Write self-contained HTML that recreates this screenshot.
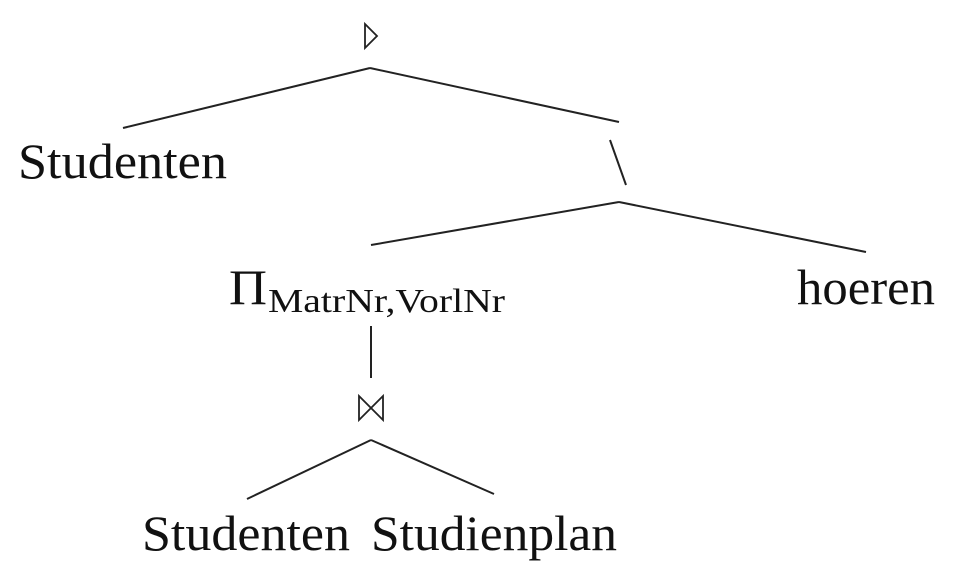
<!DOCTYPE html>
<html><head><style>html,body{margin:0;padding:0;background:#fff}</style></head>
<body>
<svg width="958" height="588" viewBox="0 0 958 588" xmlns="http://www.w3.org/2000/svg" style="display:block">
<g stroke="#222" stroke-width="2" fill="none">
<line x1="370" y1="68" x2="123" y2="128"/>
<line x1="370" y1="68" x2="619" y2="122"/>
<line x1="610" y1="140" x2="626" y2="185"/>
<line x1="619" y1="202" x2="371" y2="245"/>
<line x1="619" y1="202" x2="866" y2="252"/>
<line x1="371" y1="326" x2="371" y2="378"/>
<line x1="371" y1="440" x2="247" y2="499"/>
<line x1="371" y1="440" x2="494" y2="494"/>
<polygon points="365,24 377,36 365,48" stroke-width="1.8"/>
<polygon points="359,396 383,420 383,396 359,420" stroke-width="1.8"/>
</g>
<g font-family="Liberation Serif, serif" fill="#111" font-size="50">
<text x="18" y="178" textLength="209" lengthAdjust="spacingAndGlyphs">Studenten</text>
<text x="797" y="304" textLength="138" lengthAdjust="spacingAndGlyphs">hoeren</text>
<text x="229" y="304" textLength="38" lengthAdjust="spacingAndGlyphs">Π</text>
<text x="268" y="312" font-size="34" textLength="237" lengthAdjust="spacingAndGlyphs">MatrNr,VorlNr</text>
<text x="142" y="550" textLength="208" lengthAdjust="spacingAndGlyphs">Studenten</text>
<text x="371" y="550" textLength="246" lengthAdjust="spacingAndGlyphs">Studienplan</text>
</g>
</svg>
</body></html>
